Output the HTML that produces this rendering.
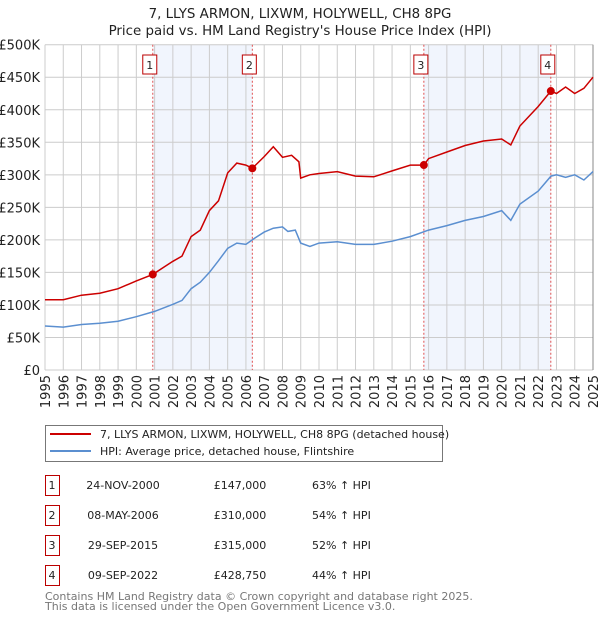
<!DOCTYPE html>
<html><head><meta charset="utf-8"><style>
body{margin:0;background:#fff;font-family:"DejaVu Sans","Liberation Sans",sans-serif;}
svg text{font-family:"DejaVu Sans","Liberation Sans",sans-serif;}
</style></head><body>
<svg id="c" width="600" height="620" xmlns="http://www.w3.org/2000/svg">
<text x="300" y="18" text-anchor="middle" font-size="13.4" fill="#222">7, LLYS ARMON, LIXWM, HOLYWELL, CH8 8PG</text>
<text x="300" y="35" text-anchor="middle" font-size="13.4" fill="#222">Price paid vs. HM Land Registry's House Price Index (HPI)</text>
<g id="plot"></g>
<rect x="45.5" y="425.5" width="397" height="36" fill="#fff" stroke="#777"/>
<line x1="50" y1="434" x2="91" y2="434" stroke="#cc0000" stroke-width="2"/>
<text x="100" y="438" font-size="11" fill="#222">7, LLYS ARMON, LIXWM, HOLYWELL, CH8 8PG (detached house)</text>
<line x1="50" y1="451" x2="91" y2="451" stroke="#5b8fd0" stroke-width="2"/>
<text x="100" y="455" font-size="11" fill="#222">HPI: Average price, detached house, Flintshire</text>
<g id="tbl" font-size="11" fill="#222"></g>
<text x="45" y="600" font-size="11" fill="#777">Contains HM Land Registry data © Crown copyright and database right 2025.</text>
<text x="45" y="610" font-size="11" fill="#777">This data is licensed under the Open Government Licence v3.0.</text>
</svg>
<script>
const hpiDates=[1995,1996,1997,1998,1999,2000,2001,2002,2002.5,2003,2003.5,2004,2004.5,2005,2005.5,2006,2006.5,2007,2007.5,2008,2008.3,2008.7,2009,2009.5,2010,2011,2012,2013,2014,2015,2016,2017,2018,2019,2020,2020.5,2021,2022,2022.7,2023,2023.5,2024,2024.5,2025];
const hpiValues=[67.7,66,70,72,75,82,90,101,107,125,135,150,168,187,195,193,203,212,218,220,213,215,195,190,195,197,193,193,198,205,215,222,230,236,245,230,255,275,298,300,296,300,292,305];
const propDates=[1995,1996,1997,1998,1999,2000,2000.9,2001.5,2002,2002.5,2003,2003.5,2004,2004.5,2005,2005.5,2006,2006.35,2007,2007.5,2008,2008.5,2008.9,2009,2009.5,2010,2011,2012,2013,2014,2015,2015.74,2016,2017,2018,2019,2020,2020.5,2021,2022,2022.69,2023,2023.5,2024,2024.5,2025];
const propValues=[108,108,115,118,125,137,147,158,167,175,205,215,245,260,303,318,315,310,328,343,327,330,320,295,300,302,305,298,297,306,315,315,325,335,345,352,355,346,375,405,428.75,425,435,425,433,450];
const saleDates=[2000.9,2006.35,2015.74,2022.69];
const saleValues=[147,310,315,428.75];
const saleLabels=["1","2","3","4"];
const saleDateText=["24-NOV-2000","08-MAY-2006","29-SEP-2015","09-SEP-2022"];
const salePriceText=["£147,000","£310,000","£315,000","£428,750"];
const salePctText=["63% ↑ HPI","54% ↑ HPI","52% ↑ HPI","44% ↑ HPI"];
const yTicks=[0,50,100,150,200,250,300,350,400,450,500];
const yTickLabels=["£0","£50K","£100K","£150K","£200K","£250K","£300K","£350K","£400K","£450K","£500K"];
const xTicks=[1995,1996,1997,1998,1999,2000,2001,2002,2003,2004,2005,2006,2007,2008,2009,2010,2011,2012,2013,2014,2015,2016,2017,2018,2019,2020,2021,2022,2023,2024,2025];

const X0=45,X1=593,Y0=370,Y1=44.7;
const xs=d=>X0+(d-1995)/30*(X1-X0);
const ys=v=>Y0-v/500*(Y0-Y1);
const NS="http://www.w3.org/2000/svg";
const plot=document.getElementById('plot');
function mk(tag,attrs,parent){const e=document.createElementNS(NS,tag);for(const k in attrs)e.setAttribute(k,attrs[k]);(parent||plot).appendChild(e);return e;}

for(let i=0;i<4;i+=2){
  const r=mk('rect',{x:xs(saleDates[i]),y:Y1,width:xs(saleDates[i+1])-xs(saleDates[i]),height:Y0-Y1,fill:'#eef2fc',opacity:0.8});
  
  
}
yTicks.forEach((t,i)=>{
  const l=mk('line',{x1:X0,x2:X1,y1:ys(t),y2:ys(t),stroke:'#ccc','stroke-width':1});
  
  
  const tx=mk('text',{x:X0-5,y:ys(t)+5,'text-anchor':'end','font-size':13,fill:'#222'});
  tx.textContent=yTickLabels[i];
  
  
});
xTicks.forEach(t=>{
  const l=mk('line',{x1:xs(t),x2:xs(t),y1:Y1,y2:Y0,stroke:'#ccc','stroke-width':1});
  
  
  const tx=mk('text',{x:0,y:0,'text-anchor':'end','font-size':13,fill:'#222',transform:`translate(${xs(t)+5},${Y0+5}) rotate(-90)`});
  tx.textContent=t;
  
  
});
const ax=mk('line',{x1:X1,x2:X1,y1:Y1,y2:Y0,stroke:'#888'});



saleDates.forEach((d,i)=>{
  const l=mk('line',{x1:xs(d),x2:xs(d),y1:Y1,y2:Y0,stroke:'#e05050','stroke-dasharray':'2,2','stroke-width':1});
  
  
});
function path(ds,vs,col,name){
  const p=mk('path',{d:ds.map((d,i)=>(i?'L':'M')+xs(d).toFixed(1)+','+ys(vs[i]).toFixed(1)).join(''),fill:'none',stroke:col,'stroke-width':1.5});
  
  
}
path(hpiDates,hpiValues,'#5b8fd0','hpi-line');
path(propDates,propValues,'#cc0000','property-line');
saleDates.forEach((d,i)=>{
  const c=mk('circle',{cx:xs(d),cy:ys(saleValues[i]),r:4,fill:'#cc0000'});
  
  
  const bx=xs(d)-3;
  const r=mk('rect',{x:bx-7,y:55,width:14,height:19,fill:'#fff',stroke:'#b00'});
  
  
  const t=mk('text',{x:bx,y:69,'text-anchor':'middle','font-size':11,fill:'#222'});
  t.textContent=saleLabels[i];
  
  
});
const tbl=document.getElementById('tbl');
saleLabels.forEach((s,i)=>{
  const y=475+i*30;
  const r=mk('rect',{x:45.5,y:y+0.5,width:14,height:20,fill:'#fff',stroke:'#b00'},tbl);
  
  
  const vals=[[52,s,'middle'],[123,saleDateText[i],'middle'],[240,salePriceText[i],'middle'],[312,salePctText[i],'start']];
  vals.forEach(v=>{
    const t=mk('text',{x:v[0],y:y+14,'text-anchor':v[2]},tbl);
    t.textContent=v[1];
    
    
  });
});
</script>
</body></html>
